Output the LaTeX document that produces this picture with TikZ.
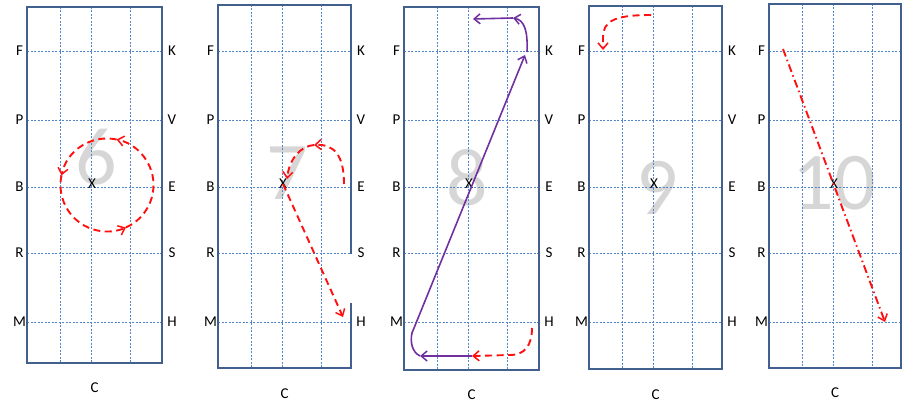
\documentclass[tikz,border=0pt]{standalone}
\usepackage{fontspec}
\setmainfont{Carlito}
\usetikzlibrary{arrows.meta}
\definecolor{gridblue}{HTML}{5385CC}
\definecolor{framec}{HTML}{41608E}
\definecolor{bigdig}{HTML}{D6D6D6}
\definecolor{redc}{HTML}{FF1010}
\definecolor{purp}{HTML}{7030A0}
\tikzset{
 rinkframe/.style={draw=framec, line width=1.8pt},
 gridln/.style={draw=gridblue, line width=0.8pt, dash pattern=on 2pt off 1.5pt},
 lab/.style={font=\fontsize{15}{15}\selectfont, inner sep=0pt, text=black},
 bignum/.style={font=\fontsize{82}{82}\selectfont, text=bigdig, inner sep=0pt},
 headarrow/.style={-{Straight Barb[length=6pt,width=10pt,line width=1.5pt]}},
 reddash/.style={draw=redc, line width=1.9pt, dash pattern=on 7pt off 4.5pt, headarrow},
 reddot/.style={draw=redc, line width=1.9pt, dash pattern=on 8pt off 3.5pt on 1.5pt off 3.5pt, headarrow},
 purpline/.style={draw=purp, line width=1.6pt, headarrow},
}
\newcommand\arenapanel[9]{%
 \node[bignum] (#1dig) at (#7,#8) {#6};
 \foreach \gx in {33.5,64.5,103} {\draw[gridln] (#2+\gx,#4) -- (#2+\gx,#5);}
 \foreach \gy/\ln in {51/F,120/P,187/B,253/R,322/M} {\draw[gridln] (#2,\gy) -- (#3,\gy); \node[lab] (#1\ln) at (#2-7.5,\gy) {\ln};}
 \draw[rinkframe] (#2,#4) rectangle (#3,#5);
 \node[lab] (#1X) at (#2+65,184) {X};
 \node[lab] (#1C) at ({(#2+#3)/2},#9) {C};
}
\newcommand\rightlabels[2]{%
 \foreach \gy/\ln in {51/K,120/V,187/E,253/S,322/H} {\node[lab] (#1\ln) at (#2+10,\gy) {\ln};}
}
\begin{document}
\begin{tikzpicture}[x=1pt,y=-1pt]
\useasboundingbox (0,0) rectangle (903,403);
% panels
\arenapanel{a}{27}{162}{7}{363}{6}{96}{157}{388}
\rightlabels{a}{162}
\arenapanel{b}{218}{351}{5}{368}{7}{287}{173}{394}
\rightlabels{b}{351}
\fill[white] (348,254) rectangle (354,303);
\arenapanel{c}{404}{539}{7}{370}{8}{467}{178}{395}
\rightlabels{c}{539}
\arenapanel{d}{589}{722}{6}{369}{9}{657}{188}{395}
\rightlabels{d}{722}
\arenapanel{e}{769}{901}{4}{368}{10}{834}{183}{393}
% panel 6: circle
\coordinate (ac) at (107,185);
\draw[reddash] ([shift={(294:46.5pt)}]ac) arc[start angle=294,end angle=438,radius=46.5pt];
\draw[reddash] ([shift={(78:46.5pt)}]ac) arc[start angle=78,end angle=168,radius=46.5pt];
\draw[reddash] ([shift={(168:46.5pt)}]ac) arc[start angle=168,end angle=294,radius=46.5pt];
% panel 7
\coordinate (bs) at (344,184);
\coordinate (bt) at (314,145);
\coordinate (bend) at (343,317);
\draw[reddash] (bs) .. controls (344,155) and (334,144) .. (bt);
\draw[reddash] (bt) .. controls (300,146) and (289,160) .. (bX.north east);
\draw[reddash] (bX.center) -- (bend);
% panel 8
\coordinate (ch) at (532,328);
\coordinate (cc) at (472,356);
\coordinate (cm) at (420,356);
\coordinate (cm2) at (412,333);
\coordinate (ck) at (525,55);
\coordinate (ck2) at (527,52);
\coordinate (ct) at (513,18);
\coordinate (cmid) at (473,19);
\draw[reddash] (ch) .. controls (532,345) and (525,355) .. (510,355) -- (cc);
\draw[purpline] (cc) -- (cm);
\draw[purpline] (cm) .. controls (412,352) and (410,342) .. (cm2) -- (ck);
\draw[purpline] (ck2) .. controls (528,30) and (524,20) .. (ct);
\draw[purpline] (ct) -- (cmid);
% panel 9
\coordinate (dstart) at (651,15);
\coordinate (dF) at (603,50);
\draw[reddash] (dstart) .. controls (612,15) and (603,22) .. (603,38) -- (dF);
% panel 10
\coordinate (eF) at (783,49);
\coordinate (eM) at (885,322);
\draw[reddot] (eF) -- (eM);
\end{tikzpicture}
\end{document}
